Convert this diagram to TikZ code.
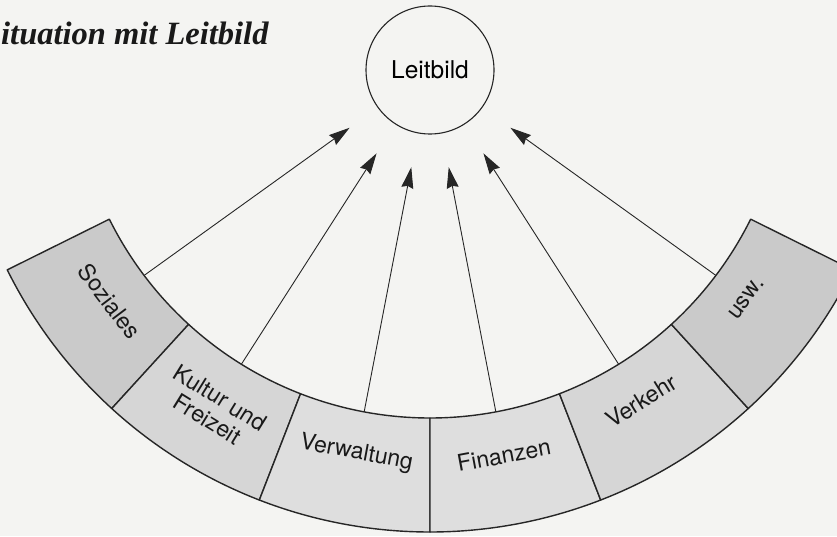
\documentclass[tikz,border=0pt]{standalone}
\usepackage{fontspec}
\setmainfont{TeX Gyre Heros}
\newfontfamily\titlefont{Liberation Serif}
\usetikzlibrary{calc,arrows.meta}
\definecolor{bgc}{HTML}{F4F4F2}
\definecolor{segA}{HTML}{CACACA}
\definecolor{segB}{HTML}{D6D6D6}
\definecolor{segC}{HTML}{DEDEDE}
\tikzset{
  seg/.style={draw=black!85, line width=1.4pt, line join=round},
  lab/.style={font=\fontsize{23}{25}\selectfont, text=black!90, inner sep=0pt, align=center},
  arr/.style={draw=black!85, line width=0.9pt, -{Stealth[length=21pt,width=12pt,inset=2pt]}},
}
\newcommand{\segment}[3]{%
  \draw[seg, fill=#3] ($(O)+(#1:358pt)$) arc[start angle=#1, end angle=#2, radius=358pt]
    -- ($(O)+(#2:472pt)$) arc[start angle=#2, end angle=#1, radius=472pt] -- cycle;}
\begin{document}
\begin{tikzpicture}[x=1pt,y=1pt]
\fill[bgc] (0,0) rectangle (837,536);
\useasboundingbox (0,0) rectangle (837,536);
\clip (0,0) rectangle (837,536);
\coordinate (O) at (430,476);
% band segments
\segment{-153.6}{-132.4}{segA}
\segment{-132.4}{-111.2}{segB}
\segment{-111.2}{-90}{segC}
\segment{-90}{-68.8}{segC}
\segment{-68.8}{-47.6}{segB}
\segment{-47.6}{-26.4}{segA}
% labels
\node[lab, rotate=-53] (soz) at ($(O)+(-143:401pt)$) {Soziales};
\node[lab, rotate=-31.8] (kul) at ($(O)+(-121.8:410pt)$) {Kultur und\\Freizeit};
\node[lab, rotate=-10.6] (ver) at ($(O)+(-100.6:400pt)$) {Verwaltung};
\node[lab, rotate=10.6] (fin) at ($(O)+(-79.4:402pt)$) {Finanzen};
\node[lab, rotate=31.8] (vkr) at ($(O)+(-58.2:401pt)$) {Verkehr};
\node[lab, rotate=53] (usw) at ($(O)+(-37:396pt)$) {usw.};
% Leitbild
\node[circle, draw=black!85, line width=1.1pt, minimum size=128pt, inner sep=0pt,
      font=\fontsize{24.5}{26}\selectfont] (L) at (430,466) {Leitbild};
% arrow start points on the inner arc
\coordinate (s1) at ($(O)+(-143:358pt)$);
\coordinate (s2) at ($(O)+(-121.8:358pt)$);
\coordinate (s3) at ($(O)+(-100.6:358pt)$);
\coordinate (s4) at ($(O)+(-79.4:358pt)$);
\coordinate (s5) at ($(O)+(-58.2:358pt)$);
\coordinate (s6) at ($(O)+(-37:358pt)$);
\foreach \s in {s1,s2,s3,s4,s5,s6}{
  \draw[arr] (\s) -- ($(L.center)!99pt!(\s)$);
}
% title
\node[anchor=base west, inner sep=0pt, font=\titlefont\bfseries\itshape\fontsize{32.5}{34}\selectfont, text=black!90]
  (title) at (1,491) {ituation mit Leitbild};
\end{tikzpicture}
\end{document}
